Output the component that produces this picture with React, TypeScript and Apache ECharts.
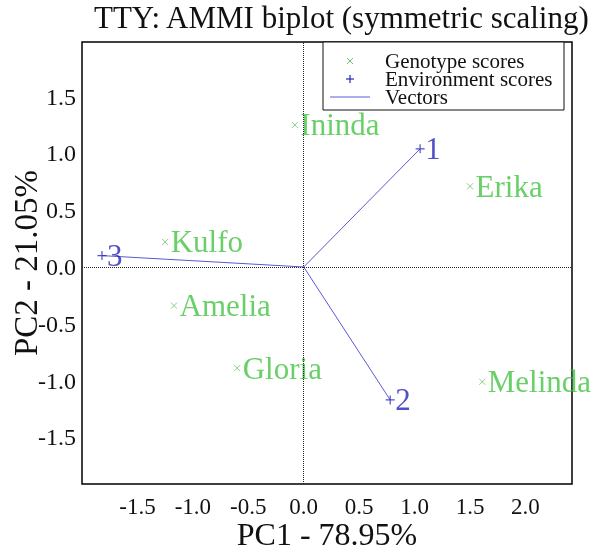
import React, { useEffect, useRef } from "react";
import * as echarts from "echarts";

const genotypes = ["Ininda", "Erika", "Kulfo", "Amelia", "Gloria", "Melinda"];
const genoPC1 = [-0.08, 1.5, -1.25, -1.17, -0.6, 1.61];
const genoPC2 = [1.25, 0.71, 0.22, -0.34, -0.89, -1.01];
const environments = ["1", "2", "3"];
const envPC1 = [1.05, 0.78, -1.82];
const envPC2 = [1.04, -1.17, 0.1];
const tickValues = [-1.5, -1.0, -0.5, 0.0, 0.5, 1.0, 1.5];
const xTickValues = [-1.5, -1.0, -0.5, 0.0, 0.5, 1.0, 1.5, 2.0];
const legendItems = ["Genotype scores", "Environment scores", "Vectors"];

const FONT = "'Liberation Serif', 'Times New Roman', serif";
const GREEN = "#44c444";
const GREEN_MARK = "#6cbf6c";
const BLUE = "#2626b8";
const BLUE_LINE = "#5a5ad2";

export default function App() {
  const ref = useRef<HTMLDivElement>(null);
  useEffect(() => {
    if (!ref.current) return;
    const chart = echarts.init(ref.current, null, { renderer: "svg" });
    const vectorSeries = environments.map((e, i) => ({
      type: "line",
      data: [
        [0, 0],
        [envPC1[i], envPC2[i]],
      ],
      symbol: "none",
      lineStyle: { color: BLUE_LINE, width: 1 },
      silent: true,
      z: 3,
    }));
    chart.setOption({
      animation: false,
      title: {
        text: "TTY: AMMI biplot (symmetric scaling)",
        left: 94,
        top: 2,
        padding: 0,
        textStyle: { fontFamily: FONT, fontSize: 31, fontWeight: "normal", color: "#111" },
      },
      grid: {
        left: 82,
        right: 27,
        top: 42,
        bottom: 66,
        outerBoundsMode: "none",
        containLabel: false,
        show: true,
        borderColor: "#000",
        borderWidth: 1.5,
        backgroundColor: "transparent",
      },
      xAxis: {
        type: "value",
        min: -2.0,
        max: 2.42,
        name: "PC1 - 78.95%",
        nameLocation: "middle",
        nameGap: 37,
        nameMoveOverlap: false,
        nameTextStyle: { fontFamily: FONT, fontSize: 32, lineHeight: 26, color: "#111" },
        axisLine: { show: false },
        axisTick: { show: false },
        splitLine: { show: false },
        axisLabel: {
          customValues: xTickValues,
          formatter: (v: number) => v.toFixed(1),
          fontFamily: FONT,
          fontSize: 23,
          lineHeight: 20,
          color: "#111",
          margin: 12,
        },
      },
      yAxis: {
        type: "value",
        min: -1.91,
        max: 1.98,
        name: "PC2 - 21.05%",
        nameLocation: "middle",
        nameGap: 40,
        nameMoveOverlap: false,
        nameTextStyle: { fontFamily: FONT, fontSize: 33, color: "#111" },
        axisLine: { show: false },
        axisTick: { show: false },
        splitLine: { show: false },
        axisLabel: {
          customValues: tickValues,
          formatter: (v: number) => v.toFixed(1),
          fontFamily: FONT,
          fontSize: 24,
          color: "#111",
          margin: 6,
        },
      },
      series: [
        {
          type: "scatter",
          name: "Genotype scores",
          data: genotypes.map((g, i) => ({ name: g, value: [genoPC1[i], genoPC2[i]] })),
          symbol: "path://M0,0L10,10M10,0L0,10",
          symbolSize: 6,
          itemStyle: { color: "transparent", borderColor: GREEN_MARK, borderWidth: 1 },
          label: {
            show: true,
            position: "right",
            distance: 2,
            formatter: (p: any) => p.name,
            fontFamily: FONT,
            fontSize: 31,
            color: GREEN,
          },
          markLine: {
            silent: true,
            symbol: "none",
            label: { show: false },
            lineStyle: { type: "dotted", color: "#222", width: 1 },
            data: [{ xAxis: 0 }, { yAxis: 0 }],
          },
          z: 4,
        },
        ...vectorSeries,
        {
          type: "scatter",
          name: "Environment scores",
          data: environments.map((e, i) => ({ name: e, value: [envPC1[i], envPC2[i]] })),
          symbol: "path://M5,0L5,10M0,5L10,5",
          symbolSize: 9,
          itemStyle: { color: "transparent", borderColor: BLUE, borderWidth: 1.2 },
          label: {
            show: true,
            position: "right",
            distance: 0,
            formatter: (p: any) => p.name,
            fontFamily: FONT,
            fontSize: 31,
            color: BLUE,
          },
          z: 5,
        },
      ],
      graphic: [
        {
          type: "group",
          z: 100,
          children: [
            {
              type: "rect",
              shape: { x: 323, y: 42, width: 241, height: 68 },
              style: { fill: "#fff", stroke: "#111", lineWidth: 1 },
            },
            { type: "line", shape: { x1: 347, y1: 58, x2: 353, y2: 64 }, style: { stroke: GREEN_MARK, lineWidth: 1 } },
            { type: "line", shape: { x1: 353, y1: 58, x2: 347, y2: 64 }, style: { stroke: GREEN_MARK, lineWidth: 1 } },
            { type: "line", shape: { x1: 346, y1: 79, x2: 354, y2: 79 }, style: { stroke: BLUE, lineWidth: 1.2 } },
            { type: "line", shape: { x1: 350, y1: 75, x2: 350, y2: 83 }, style: { stroke: BLUE, lineWidth: 1.2 } },
            { type: "line", shape: { x1: 330, y1: 97, x2: 370, y2: 97 }, style: { stroke: BLUE_LINE, lineWidth: 1 } },
            ...legendItems.map((t, i) => ({
              type: "text",
              x: 385,
              y: 61 + i * 18,
              style: {
                text: t,
                fontFamily: FONT,
                fontSize: 21,
                lineHeight: 18,
                fill: "#111",
                verticalAlign: "middle",
                align: "left",
              },
            })),
          ],
        },
      ],
    });
    return () => chart.dispose();
  }, []);
  return (
    <div
      ref={ref}
      style={{ position: "fixed", left: 0, top: 0, width: 599, height: 550 }}
    />
  );
}
